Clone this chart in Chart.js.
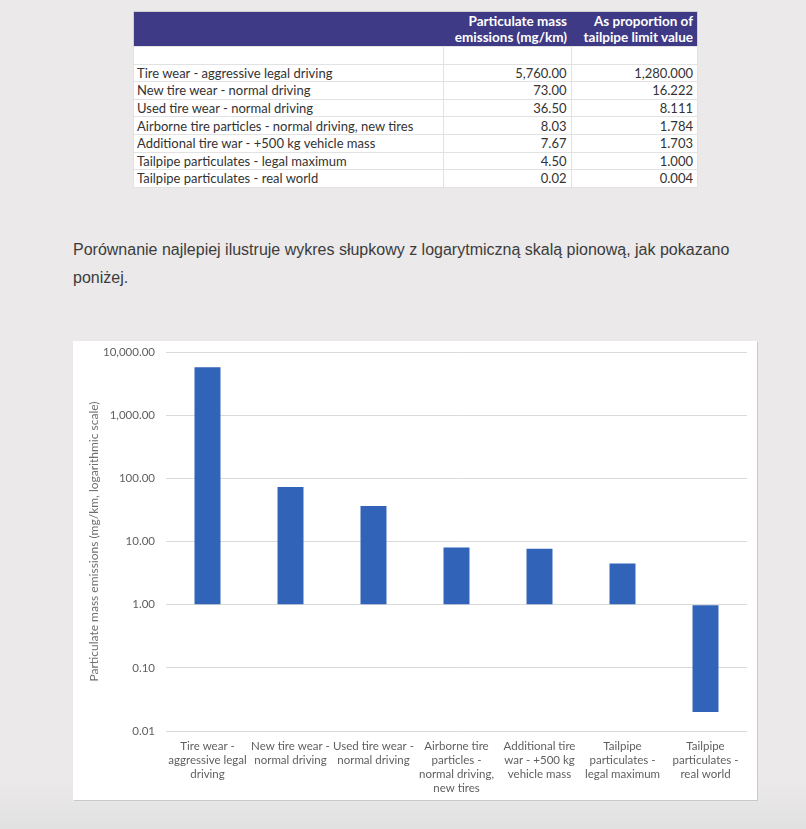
<!DOCTYPE html>
<html>
<head>
<meta charset="utf-8">
<script src="https://cdn.jsdelivr.net/npm/chart.js@4.4.1/dist/chart.umd.min.js"></script>
<style>
  html, body { margin: 0; padding: 0; }
  body {
    width: 806px; height: 829px; position: relative; overflow: hidden;
    background: linear-gradient(#ebe9ea 0%, #ebe9ea 94%, #e2e1e1 100%);
  }
  #tbl {
    position: absolute; left: 133px; top: 11px; width: 565px;
    border-collapse: collapse; background: #fff;
    font-family: Lato, sans-serif; font-size: 13px; color: #333;
    border: 1px solid #cfcfcf;
  }
  #tbl th {
    background: #3e3a86; color: #fff; font-weight: bold; text-align: right;
    font-size: 13.5px; line-height: 16px; padding: 1px 4px 1px 3px; height: 32px; vertical-align: middle;
  }
  #tbl td {
    height: 16.6px; line-height: 16px; padding: 0 4px 0 3px;
    border: 1px solid #e2e2e2; white-space: nowrap;
  }
  #tbl td.num { text-align: right; }
  #txt {
    position: absolute; left: 73px; top: 236px;
    font-family: "Liberation Sans", Arial, sans-serif; font-size: 16px;
    line-height: 28px; color: #3c3c3c; white-space: nowrap;
  }
  #box {
    position: absolute; left: 73px; top: 341px; width: 684px; height: 459px;
    background: #fff; box-shadow: 1px 1px 0 #c9c9c9;
  }
</style>
</head>
<body>
<table id="tbl"></table>
<div id="txt">Porównanie najlepiej ilustruje wykres słupkowy z logarytmiczną skalą pionową, jak pokazano<br>poniżej.</div>
<div id="box"><canvas id="chart" width="684" height="459"></canvas></div>
<script>
// dane z tabeli
const tableLabels = [
  'Tire wear - aggressive legal driving',
  'New tire wear - normal driving',
  'Used tire wear - normal driving',
  'Airborne tire particles - normal driving, new tires',
  'Additional tire war - +500 kg vehicle mass',
  'Tailpipe particulates - legal maximum',
  'Tailpipe particulates - real world'
];
const emissions = [5760, 73, 36.5, 8.03, 7.67, 4.5, 0.02];
const proportions = [1280, 16.222, 8.111, 1.784, 1.703, 1.0, 0.004];

// etykiety osi X (zawinięte jak w oryginale)
const categories = [
  ['Tire wear -', 'aggressive legal', 'driving'],
  ['New tire wear -', 'normal driving'],
  ['Used tire wear -', 'normal driving'],
  ['Airborne tire', 'particles -', 'normal driving,', 'new tires'],
  ['Additional tire', 'war - +500 kg', 'vehicle mass'],
  ['Tailpipe', 'particulates -', 'legal maximum'],
  ['Tailpipe', 'particulates -', 'real world']
];
const yTicks = [0.01, 0.1, 1, 10, 100, 1000, 10000];

function fmt(v, d) {
  return v.toLocaleString('en-US', { minimumFractionDigits: d, maximumFractionDigits: d });
}

// tabela
const tbl = document.getElementById('tbl');
let html = '<tr><th style="width:302px"></th><th style="width:121px">Particulate mass<br>emissions (mg/km)</th>' +
  '<th>As proportion of<br>tailpipe limit value</th></tr>';
html += '<tr><td></td><td></td><td></td></tr>';
tableLabels.forEach((lab, i) => {
  html += `<tr><td>${lab}</td><td class="num">${fmt(emissions[i], 2)}</td><td class="num">${fmt(proportions[i], 3)}</td></tr>`;
});
tbl.innerHTML = html;

// wykres
const ctx = document.getElementById('chart').getContext('2d');
new Chart(ctx, {
  type: 'bar',
  data: {
    labels: categories,
    datasets: [{
      data: emissions,
      base: 1,
      backgroundColor: '#3163b8',
      borderWidth: 0,
      barPercentage: 0.313,
      categoryPercentage: 1
    }]
  },
  options: {
    responsive: false,
    animation: false,
    layout: { padding: { top: 11, right: 10, left: 0, bottom: 0 } },
    plugins: { legend: { display: false }, tooltip: { enabled: false } },
    scales: {
      x: {
        grid: { display: false, drawTicks: false },
        border: { display: false },
        ticks: {
          color: '#5f5f5f', padding: 8, maxRotation: 0, autoSkip: false,
          font: { family: 'Lato', size: 11.5, lineHeight: 1.22 }
        },
        afterFit: s => { s.height = 69; }
      },
      y: {
        type: 'logarithmic',
        min: 0.01,
        max: 10000,
        grid: { color: '#dadada', drawTicks: false },
        border: { display: false },
        ticks: {
          color: '#5f5f5f', padding: 11,
          font: { family: 'Lato', size: 11.5 },
          callback: v => fmt(v, 2)
        },
        afterBuildTicks: s => { s.ticks = yTicks.map(v => ({ value: v })); },
        title: {
          display: true,
          text: 'Particulate mass emissions (mg/km, logarithmic scale)',
          color: '#6f6f6f',
          font: { family: 'Lato', size: 12 },
          padding: { top: 14, bottom: 0 }
        },
        afterFit: s => {
          s.width = 93;
          s.paddingTop = 0;
          s.paddingBottom = 0;
        }
      }
    }
  }
});
</script>
</body>
</html>
